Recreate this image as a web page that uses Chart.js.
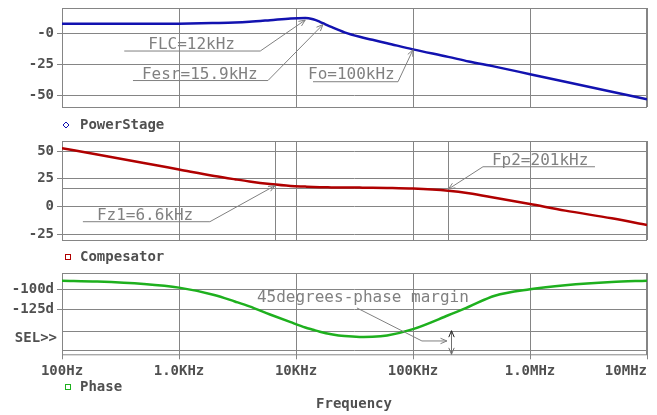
<!DOCTYPE html>
<html>
<head>
<meta charset="utf-8">
<script src="https://cdn.jsdelivr.net/npm/chart.js@4.4.1/dist/chart.umd.min.js"></script>
<style>
    html, body { margin: 0; padding: 0; background: #fff; }
    #wrap { position: relative; width: 657px; height: 415px; }
    #wrap canvas { position: absolute; left: 0; top: 0; }
</style>
</head>
<body>
<div id="wrap">
    <canvas id="power" width="657" height="415"></canvas>
    <canvas id="comp" width="657" height="415"></canvas>
    <canvas id="phase" width="657" height="415"></canvas>
</div>
<script>
// sweep points (Hz) and the three traces
const freq        = [100, 200, 500, 1e3, 2e3, 3e3, 4e3, 6e3, 9e3, 12e3, 14e3, 16e3, 18e3, 20e3, 26e3, 35e3, 45e3, 60e3, 100e3, 200e3, 300e3, 500e3, 1e6, 2e6, 5e6, 1e7];
const powerStage  = [7.4, 7.4, 7.4, 7.5, 8.0, 8.4, 9.0, 10.3, 11.7, 12.1, 11.0, 9.0, 6.8, 4.9, 0.6, -3.0, -5.4, -8.1, -13.0, -19.0, -22.7, -26.8, -32.8, -38.8, -46.8, -52.9];
const compensator = [52.5, 46.8, 39.2, 33.4, 27.6, 24.6, 22.6, 20.3, 18.6, 18.0, 17.7, 17.5, 17.4, 17.3, 17.2, 17.1, 17.0, 16.8, 16.2, 14.2, 12.0, 8.0, 2.3, -3.6, -10.5, -16.5];
const phase       = [-89.5, -90.5, -93.5, -98, -107, -115, -121, -131, -140.5, -147, -149.8, -152.2, -154, -155.3, -157.6, -158.6, -158.4, -156.8, -149, -132, -121.5, -108, -100, -95, -91, -89.5];

const decades = [100, 1e3, 1e4, 1e5, 1e6, 1e7];
const freqLabels = ['100Hz', '1.0KHz', '10KHz', '100KHz', '1.0MHz', '10MHz     '];
const psTicks = [-50, -25, 0];
const psLabels = ['-50', '-25', '-0'];
const cpTicks = [-25, 0, 25, 50];
const cpLabels = ['-25', '0', '25', '50'];
const phTicks = [-125, -100];
const phLabels = ['-125d', '-100d'];

const GRID = '#858585';
const TXT = '#505050';
const NOTE = '#808080';
const MONO = 'DejaVu Sans Mono';
const tickFont = { family: MONO, size: 14, weight: 'bold' };

function pts(ys) {
    return freq.map((f, i) => ({ x: f, y: ys[i] }));
}

function xAxis(showLabels, h) {
    return {
        type: 'logarithmic', min: 100, max: 1e7,
        afterBuildTicks: s => { s.ticks = decades.map(v => ({ value: v })); },
        grid: { color: GRID, lineWidth: 1, drawTicks: showLabels, tickLength: 5 },
        border: { display: false },
        ticks: {
            display: showLabels, autoSkip: false, maxRotation: 0, minRotation: 0,
            padding: 4, color: TXT, font: tickFont,
            callback: v => freqLabels[decades.indexOf(v)]
        },
        afterFit: s => { s.height = h; s.paddingLeft = 0; s.paddingRight = 0; }
    };
}

function yAxis(min, max, ticks, labels) {
    return {
        min, max,
        afterBuildTicks: s => { s.ticks = ticks.map(v => ({ value: v })); },
        grid: { color: GRID, lineWidth: 1, tickLength: 5 },
        border: { display: false },
        ticks: { padding: 3, color: TXT, font: tickFont, callback: v => labels[ticks.indexOf(v)] },
        afterFit: s => { s.width = 62; s.paddingTop = 0; s.paddingBottom = 0; }
    };
}

function arrowHead(ctx, x1, y1, x2, y2, size) {
    const a = Math.atan2(y2 - y1, x2 - x1);
    ctx.beginPath();
    ctx.moveTo(x2 - size * Math.cos(a - 0.4), y2 - size * Math.sin(a - 0.4));
    ctx.lineTo(x2, y2);
    ctx.lineTo(x2 - size * Math.cos(a + 0.4), y2 - size * Math.sin(a + 0.4));
    ctx.stroke();
}

// callout: path offsets lead from the underline end to the arrow tip at a data point
function drawNote(chart, n) {
    const ctx = chart.ctx;
    const tx = chart.scales.x.getPixelForValue(n.at[0]);
    const ty = chart.scales.y.getPixelForValue(n.at[1]);
    ctx.save();
    ctx.strokeStyle = NOTE;
    ctx.lineWidth = 1;
    ctx.beginPath();
    n.path.forEach((p, i) => {
        const px = tx + p[0], py = ty + p[1];
        if (i === 0) ctx.moveTo(px, py); else ctx.lineTo(px, py);
    });
    ctx.lineTo(tx, ty);
    ctx.stroke();
    const last = n.path[n.path.length - 1];
    arrowHead(ctx, tx + last[0], ty + last[1], tx, ty, 7);
    ctx.fillStyle = NOTE;
    ctx.font = '16px "' + MONO + '"';
    ctx.textAlign = 'left';
    ctx.textBaseline = 'alphabetic';
    ctx.fillText(n.text, tx + n.label[0], ty + n.label[1]);
    ctx.restore();
}

function drawBox(chart) {
    const { ctx, chartArea: a } = chart;
    ctx.save();
    ctx.strokeStyle = GRID;
    ctx.lineWidth = 1;
    ctx.strokeRect(a.left + 0.5, a.top + 0.5, a.right - a.left - 1, a.bottom - a.top);
    ctx.restore();
}

function hLine(chart, v) {
    const { ctx, chartArea: a } = chart;
    const y = Math.round(chart.scales.y.getPixelForValue(v)) + 0.5;
    ctx.save();
    ctx.strokeStyle = GRID;
    ctx.beginPath(); ctx.moveTo(a.left, y); ctx.lineTo(a.right, y); ctx.stroke();
    ctx.restore();
}

function vLine(chart, f) {
    const { ctx, chartArea: a } = chart;
    const x = Math.round(chart.scales.x.getPixelForValue(f)) + 0.5;
    ctx.save();
    ctx.strokeStyle = GRID;
    ctx.beginPath(); ctx.moveTo(x, a.top); ctx.lineTo(x, a.bottom); ctx.stroke();
    ctx.restore();
}

function label(ctx, text, x, y, align) {
    ctx.save();
    ctx.fillStyle = TXT;
    ctx.font = 'bold 14px "' + MONO + '"';
    ctx.textAlign = align || 'left';
    ctx.textBaseline = 'middle';
    ctx.fillText(text, x, y);
    ctx.restore();
}

const psNotes = [
    { text: 'FLC=12kHz', at: [12e3, 10.4], path: [[-181, 31], [-45, 31]], label: [-157, 29] },
    { text: 'Fesr=15.9kHz', at: [17e3, 6.8], path: [[-190, 56], [-55, 56]], label: [-181, 54.5] },
    { text: 'Fo=100kHz', at: [100e3, -13.3], path: [[-100, 32], [-15, 32]], label: [-105, 29] }
];
const cpNotes = [
    { text: 'Fz1=6.6kHz', at: [6.6e3, 18.8], path: [[-192, 36], [-65, 36]], label: [-178, 34.3] },
    { text: 'Fp2=201kHz', at: [201e3, 15.8], path: [[146.5, -22.3], [34.5, -22.3]], label: [43.5, -24] }
];
const phNotes = [
    { text: '45degrees-phase margin', at: [195e3, -163.6], path: [[-90, -33], [-25, 0]], label: [-190, -39] }
];

function baseOptions(padTop) {
    return {
        responsive: false, animation: false, devicePixelRatio: 1,
        layout: { padding: { top: padTop, right: 10, left: 0, bottom: 0 } },
        plugins: { legend: { display: false }, tooltip: { enabled: false } },
        elements: { point: { radius: 0 } }
    };
}

function lineSet(data, color) {
    return { data: pts(data), borderColor: color, borderWidth: 2.5, fill: false, cubicInterpolationMode: 'monotone' };
}

new Chart(document.getElementById('power'), {
    type: 'line',
    data: { datasets: [lineSet(powerStage, '#1212b0')] },
    options: { ...baseOptions(8), scales: { x: xAxis(false, 308), y: yAxis(-59, 20, psTicks, psLabels) } },
    plugins: [{
        id: 'psDecor',
        beforeDatasetsDraw: c => drawBox(c),
        afterDraw: c => {
            psNotes.forEach(n => drawNote(c, n));
            const ctx = c.ctx;
            ctx.save();
            ctx.strokeStyle = '#1212b0';
            ctx.beginPath();
            ctx.moveTo(66, 122); ctx.lineTo(69, 125); ctx.lineTo(66, 128); ctx.lineTo(63, 125); ctx.closePath();
            ctx.stroke();
            ctx.restore();
            label(ctx, 'PowerStage', 80, 125);
        }
    }]
});

new Chart(document.getElementById('comp'), {
    type: 'line',
    data: { datasets: [lineSet(compensator, '#b00000')] },
    options: { ...baseOptions(141), scales: { x: xAxis(false, 175), y: yAxis(-30, 59, cpTicks, cpLabels) } },
    plugins: [{
        id: 'cpDecor',
        beforeDatasetsDraw: c => {
            drawBox(c);
            hLine(c, 16.5);
            vLine(c, 6.6e3);
            vLine(c, 201e3);
        },
        afterDraw: c => {
            cpNotes.forEach(n => drawNote(c, n));
            const ctx = c.ctx;
            ctx.save();
            ctx.strokeStyle = '#b00000';
            ctx.strokeRect(65.5, 254.5, 5, 5);
            ctx.restore();
            label(ctx, 'Compesator', 80, 257);
        }
    }]
});

new Chart(document.getElementById('phase'), {
    type: 'line',
    data: { datasets: [lineSet(phase, '#1eb01e')] },
    options: { ...baseOptions(273), scales: { x: xAxis(true, 60.7), y: yAxis(-180, -80, phTicks, phLabels) } },
    plugins: [{
        id: 'phDecor',
        beforeDatasetsDraw: c => {
            drawBox(c);
            hLine(c, -151);
            hLine(c, -174.5);
        },
        afterDraw: c => {
            phNotes.forEach(n => drawNote(c, n));
            const ctx = c.ctx;
            // phase margin span
            const x = Math.round(c.scales.x.getPixelForValue(210e3)) + 0.5;
            const y1 = c.scales.y.getPixelForValue(-151);
            const y2 = c.scales.y.getPixelForValue(-180);
            ctx.save();
            ctx.lineWidth = 1;
            ctx.strokeStyle = '#707070';
            ctx.beginPath(); ctx.moveTo(x, y1); ctx.lineTo(x, y2); ctx.stroke();
            arrowHead(ctx, x, y1, x, y2, 7);
            ctx.strokeStyle = '#202020';
            arrowHead(ctx, x, y2, x, y1, 7);
            ctx.strokeStyle = '#1eb01e';
            ctx.strokeRect(65.5, 384.5, 5, 5);
            ctx.restore();
            label(ctx, 'Phase', 80, 387);
            label(ctx, 'Frequency', 354, 404, 'center');
            label(ctx, 'SEL>>', 57, 338, 'right');
        }
    }]
});
</script>
</body>
</html>
